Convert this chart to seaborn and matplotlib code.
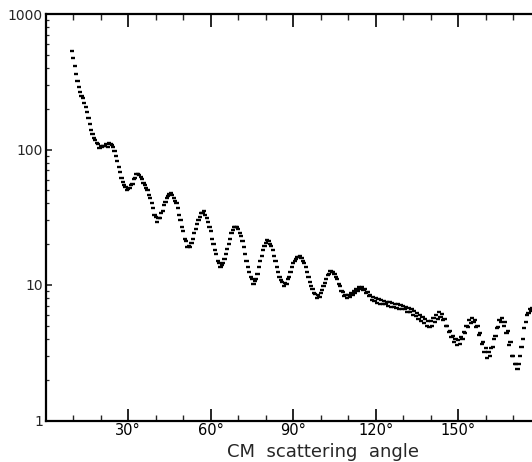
import matplotlib
matplotlib.use("Agg")
import matplotlib.pyplot as plt
import matplotlib.ticker as mticker
import seaborn as sns
import pandas as pd

# CM angle (deg) and cross section, data set A
angle_a = [10, 11, 12, 13, 14, 15, 16, 17, 18, 19, 20, 21, 22, 23, 24, 25, 26, 27, 28, 29,
           30, 31, 32, 33, 34, 35, 36, 37, 38, 39, 40, 41, 42, 43, 44, 45, 46, 47, 48, 49,
           50, 51, 52, 53, 54, 55, 56, 57, 58, 59, 60, 61, 62, 63, 64, 65, 66, 67, 68, 69,
           70, 71, 72, 73, 74, 75, 76, 77, 78, 79, 80, 81, 82, 83, 84, 85, 86, 87, 88, 89,
           90, 91, 92, 93, 94, 95, 96, 97, 98, 99, 100, 101, 102, 103, 104, 105, 106, 107, 108, 109,
           110, 111, 112, 113, 114, 115, 116, 117, 118, 119, 120, 121, 122, 123, 124, 125, 126, 127, 128, 129,
           130, 131, 132, 133, 134, 135, 136, 137, 138, 139, 140, 141, 142, 143, 144, 145, 146, 147, 148, 149,
           150, 151, 152, 153, 154, 155, 156, 157, 158, 159, 160, 161, 162, 163, 164, 165, 166, 167, 168, 169,
           170, 171, 172, 173, 174, 175, 176, 177]
sigma_a = [470, 360, 290, 250, 220, 190, 155, 130, 118, 110, 106, 107, 110, 112, 108, 97, 82, 68, 58, 53,
           51, 55, 61, 66, 65, 61, 55, 50, 44, 37, 32, 31, 34, 39, 44, 47, 46, 42, 37, 30,
           25, 21, 19.5, 20.5, 24, 28, 32, 34, 33, 29, 25, 20, 17, 14.5, 14, 15.5, 18.5, 22, 25.5, 27,
           26, 23, 19, 15, 12.5, 11, 10.7, 12, 15, 18, 20.5, 21, 19.5, 16.5, 13.5, 11.5, 10.5, 10.3, 11, 12.5,
           14.5, 15.5, 16, 15.8, 14.5, 12.5, 10.5, 9.3, 8.6, 8.4, 8.8, 9.8, 11, 12, 12.4, 12, 11, 9.8, 8.9, 8.5,
           8.5, 8.7, 9.1, 9.4, 9.6, 9.7, 9.4, 8.9, 8.5, 8.2, 8.0, 7.9, 7.8, 7.6, 7.5, 7.5, 7.4, 7.3, 7.2, 7.1,
           7.0, 6.9, 6.8, 6.6, 6.4, 6.2, 6.0, 5.8, 5.6, 5.4, 5.4, 5.7, 6.0, 6.3, 6.1, 5.6, 5.0, 4.6, 4.2, 4.0,
           3.9, 4.1, 4.5, 5.0, 5.5, 5.7, 5.5, 5.0, 4.4, 3.8, 3.4, 3.2, 3.4, 4.0, 4.8, 5.5, 5.7, 5.3, 4.6, 3.8,
           3.0, 2.6, 2.6, 3.5, 4.8, 6.0, 6.6, 6.8]

# data set B
angle_b = [9.5, 10.5, 11.5, 12.5, 13.5, 14.5, 15.5, 16.5, 17.5, 18.5, 19.5, 20.5, 21.5, 22.5, 23.5, 24.5,
           25.5, 26.5, 27.5, 28.5, 29.5, 30.5, 31.5, 32.5, 33.5, 34.5, 35.5, 36.5, 37.5, 38.5, 39.5, 40.5,
           41.5, 42.5, 43.5, 44.5, 45.5, 46.5, 47.5, 48.5, 49.5, 50.5, 51.5, 52.5, 53.5, 54.5, 55.5, 56.5,
           57.5, 58.5, 59.5, 60.5, 61.5, 62.5, 63.5, 64.5, 65.5, 66.5, 67.5, 68.5, 69.5, 70.5, 71.5, 72.5,
           73.5, 74.5, 75.5, 76.5, 77.5, 78.5, 79.5, 80.5, 81.5, 82.5, 83.5, 84.5, 85.5, 86.5, 87.5, 88.5,
           89.5, 90.5, 91.5, 92.5, 93.5, 94.5, 95.5, 96.5, 97.5, 98.5, 99.5, 100.5, 101.5, 102.5, 103.5, 104.5,
           105.5, 106.5, 107.5, 108.5, 109.5, 110.5, 111.5, 112.5, 113.5, 114.5, 115.5, 116.5, 117.5, 118.5, 119.5, 120.5,
           121.5, 122.5, 123.5, 124.5, 125.5, 126.5, 127.5, 128.5, 129.5, 130.5, 131.5, 132.5, 133.5, 134.5, 135.5, 136.5,
           137.5, 138.5, 139.5, 140.5, 141.5, 142.5, 143.5, 144.5, 145.5, 146.5, 147.5, 148.5, 149.5, 150.5, 151.5, 152.5,
           153.5, 154.5, 155.5, 156.5, 157.5, 158.5, 159.5, 160.5, 161.5, 162.5, 163.5, 164.5, 165.5, 166.5, 167.5, 168.5,
           169.5, 170.5, 171.5, 172.5, 173.5, 174.5, 175.5, 176.5]
sigma_b = [530, 410, 320, 265, 240, 205, 172, 140, 122, 112, 103, 104, 106, 104, 110, 104,
           90, 74, 62, 55, 50, 52, 56, 62, 66, 63, 57, 52, 46, 40, 33, 29,
           31, 35, 41, 45, 48, 44, 40, 33, 27, 22, 19, 19, 22, 26, 30, 34,
           35, 31, 27, 22, 18, 15, 13.5, 14.5, 17, 20, 24, 27, 27, 24, 21, 17,
           13.5, 11.5, 10.2, 11, 13.5, 16.5, 19.5, 21.5, 20, 18, 15, 12.5, 10.8, 9.8, 10.2, 11.5,
           13.5, 15, 16.2, 16.5, 15, 13.5, 11.5, 9.8, 8.8, 8.0, 8.2, 9.2, 10.3, 11.8, 12.6, 12.5,
           11.5, 10.2, 9.0, 8.3, 8.0, 8.2, 8.5, 8.8, 9.0, 9.3, 9.2, 8.8, 8.3, 7.8, 7.6, 7.4,
           7.3, 7.3, 7.2, 7.0, 6.9, 6.9, 6.8, 6.6, 6.7, 6.6, 6.3, 6.3, 6.0, 5.9, 5.6, 5.4,
           5.2, 5.0, 4.9, 5.0, 5.3, 5.6, 5.8, 5.5, 5.0, 4.5, 4.1, 3.8, 3.6, 3.7, 4.0, 4.4,
           4.9, 5.2, 5.3, 4.9, 4.3, 3.7, 3.2, 2.9, 3.0, 3.5, 4.2, 4.9, 5.3, 5.0, 4.4, 3.6,
           3.0, 2.6, 2.4, 3.0, 4.0, 5.3, 6.2, 6.4]

x_major = [30, 60, 90, 120, 150]
x_labels = ["30°", "60°", "90°", "120°", "150°"]
y_ticks = [1, 10, 100, 1000]
y_labels = ["1", "10", "100", "1000"]

df = pd.concat([
    pd.DataFrame({"angle": angle_a, "sigma": sigma_a, "set": "A"}),
    pd.DataFrame({"angle": angle_b, "sigma": sigma_b, "set": "B"}),
])

sns.set_style("ticks")
plt.rcParams["font.family"] = ["DejaVu Sans"]

fig = plt.figure(figsize=(5.32, 4.62), dpi=100)
ax = fig.add_axes([45.8 / 532, (462 - 420.5) / 462, 495 / 532, 406.5 / 462])

sns.scatterplot(data=df, x="angle", y="sigma", hue="set",
                palette={"A": "black", "B": "black"}, marker="_", s=9,
                linewidth=1.7, legend=False, ax=ax)

ax.set_yscale("log")
ax.set_xlim(0, 180)
ax.set_ylim(1, 1000)

ax.set_xticks(x_major)
ax.set_xticklabels(x_labels, fontsize=10.5)
ax.xaxis.set_minor_locator(mticker.FixedLocator([10, 20, 40, 50, 70, 80, 100, 110, 130, 140, 160, 170]))
ax.set_yticks(y_ticks)
ax.set_yticklabels(y_labels, fontsize=10)
ax.yaxis.set_minor_locator(mticker.LogLocator(base=10, subs=range(2, 10)))
ax.yaxis.set_minor_formatter(mticker.NullFormatter())

ax.tick_params(axis="x", which="major", direction="in", length=9, width=1.2,
               top=True, bottom=True, pad=2, colors="black")
ax.tick_params(axis="x", which="minor", direction="in", length=4.5, width=1.0,
               top=True, bottom=True)
ax.tick_params(axis="y", which="major", direction="in", length=4, width=1.2,
               left=True, right=True, pad=2)
ax.tick_params(axis="y", which="minor", direction="in", length=2.5, width=0.9,
               left=True, right=True)

for sp in ax.spines.values():
    sp.set_linewidth(1.6)
    sp.set_color("black")

ax.set_xlabel("CM  scattering  angle", fontsize=13, labelpad=2)
ax.xaxis.set_label_coords((323 - 45.8) / 495, -0.055)
ax.set_ylabel("")

fig.savefig("out.png", dpi=100)
